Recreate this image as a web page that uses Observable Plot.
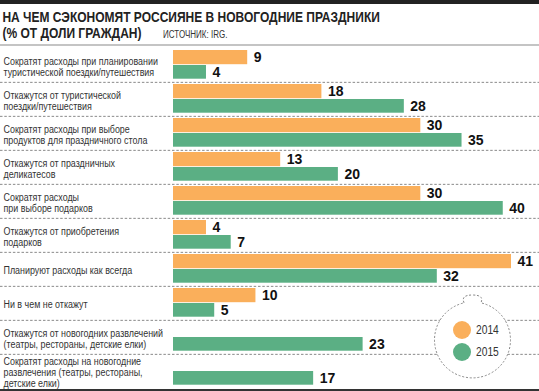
<!DOCTYPE html>
<html><head><meta charset="utf-8">
<script src="https://cdn.jsdelivr.net/npm/d3@7"></script>
<script src="https://cdn.jsdelivr.net/npm/@observablehq/plot@0.6"></script>
<style>
body{margin:0;background:#fff;}
#wrap{position:relative;width:539px;height:391px;overflow:hidden;font-family:"Liberation Sans","Arial",sans-serif;}
#topbar{height:4px;background:#222;}
#title{padding:5px 0 0 3px;height:32px;font-weight:bold;font-size:15px;line-height:16px;color:#222;white-space:nowrap;transform:scaleX(0.8);transform-origin:0 0;}
#title .src{font-weight:normal;font-size:10px;color:#333;margin-left:27px;}
#rule{height:2px;background:#c4c4c4;margin-top:3px;}
#bottom{height:4px;background:#333;}
#chart svg{display:block;}
#legend{position:absolute;left:0;top:0;}
</style></head>
<body>
<div id="wrap">
<div id="topbar"></div>
<div id="title">НА ЧЕМ СЭКОНОМЯТ РОССИЯНЕ В НОВОГОДНИЕ ПРАЗДНИКИ<br>(% ОТ ДОЛИ ГРАЖДАН)<span class="src">ИСТОЧНИК: IRG.</span></div>
<div id="rule"></div>
<div id="chart"></div>
<div id="bottom"></div>
</div>
<script>
const categories = [
  "Сократят расходы при планировании\nтуристической поездки/путешествия",
  "Откажутся от туристической\nпоездки/путешествия",
  "Сократят расходы при выборе\nпродуктов для праздничного стола",
  "Откажутся от праздничных\nделикатесов",
  "Сократят расходы\nпри выборе подарков",
  "Откажутся от приобретения\nподарков",
  "Планируют расходы как всегда",
  "Ни в чем не откажут",
  "Откажутся от новогодних развлечений\n(театры, рестораны, детские елки)",
  "Сократят расходы на новогодние\nразвлечения (театры, рестораны,\nдетские елки)"
];
const values2014 = [9, 18, 30, 13, 30, 4, 41, 10, null, null];
const values2015 = [4, 28, 35, 20, 40, 7, 32, 5, 23, 17];
const seriesNames = ["2014", "2015"];
const seriesColors = ["#FAAF5B", "#5BAF84"];

const rows2014 = categories.map((c, i) => ({cat: c, value: values2014[i]})).filter(d => d.value != null);
const rows2015 = categories.map((c, i) => ({cat: c, value: values2015[i]})).filter(d => d.value != null);

const W = 539, H = 343, ML = 173, MR = 28;
const band = H / categories.length;
const labelFont = "Liberation Sans, Arial, sans-serif";
const squeeze = 0.81;

const chart = Plot.plot({
  width: W, height: H,
  marginLeft: ML, marginRight: MR, marginTop: 0, marginBottom: 0,
  x: {domain: [0, 41], axis: null},
  y: {domain: categories, padding: 0, axis: null},
  marks: [
    Plot.ruleY(categories.slice(1), {y: d => d, dy: -band / 2, stroke: "#8a8a8a", strokeDasharray: "2.5,1.8", strokeWidth: 1, insetLeft: -ML, insetRight: -MR}),
    Plot.barX(rows2014, {y: "cat", x: "value", fill: seriesColors[0], insetTop: 2, insetBottom: band - 16.5}),
    Plot.barX(rows2015, {y: "cat", x: "value", fill: seriesColors[1], insetTop: 17, insetBottom: band - 31}),
    Plot.text(rows2014, {y: "cat", x: "value", text: d => String(d.value), dy: 9.3 - band / 2, dx: 6, textAnchor: "start", fontWeight: "bold", fontSize: 14, fill: "#111", fontFamily: "Liberation Sans, Arial, sans-serif"}),
    Plot.text(rows2015, {y: "cat", x: "value", text: d => String(d.value), dy: 24 - band / 2, dx: 6, textAnchor: "start", fontWeight: "bold", fontSize: 14, fill: "#111", fontFamily: "Liberation Sans, Arial, sans-serif"}),
    Plot.text(categories, {y: d => d, text: d => d, frameAnchor: "left", textAnchor: "start", dx: 3 - ML * squeeze, dy: 1, fontSize: 11, lineHeight: 1.0, fill: "#333", fontFamily: labelFont})
  ]
});
document.getElementById("chart").appendChild(chart);

// condense the category labels horizontally (reference uses a condensed face)
d3.select(chart).selectAll('g[aria-label="text"]')
  .filter(function () { return this.textContent.includes("Планируют"); })
  .each(function () {
    const g = d3.select(this);
    g.attr("transform", (g.attr("transform") || "") + ` scale(${squeeze},1)`);
  });

// legend (ornament-shaped)
const lg = d3.select("#wrap").append("svg").attr("id", "legend").attr("width", W).attr("height", 391);
const cx = 472, cy = 340, r = 38;
const bx1 = 464, bx2 = 481;
const by = cy - Math.sqrt(r * r - (cx - bx1) * (cx - bx1));
lg.append("path")
  .attr("d", `M${bx1},${by} C${bx1 - 2},${by - 5} ${bx1},295 ${(bx1 + bx2) / 2},295 C${bx2},295 ${bx2 + 2},${by - 5} ${bx2},${by} A${r},${r} 0 1 1 ${bx1},${by} Z`)
  .attr("fill", "#fff").attr("stroke", "#888").attr("stroke-dasharray", "2,1.8").attr("stroke-width", 1);
seriesNames.forEach((name, i) => {
  const yy = 330 + i * 22;
  lg.append("circle").attr("cx", 462).attr("cy", yy).attr("r", 9).attr("fill", seriesColors[i]);
  lg.append("text").attr("transform", `translate(476,${yy}) scale(0.82,1)`).attr("dy", "0.35em").attr("font-size", 12.5)
    .attr("font-family", labelFont).attr("fill", "#333").text(name);
});
</script>
</body></html>
